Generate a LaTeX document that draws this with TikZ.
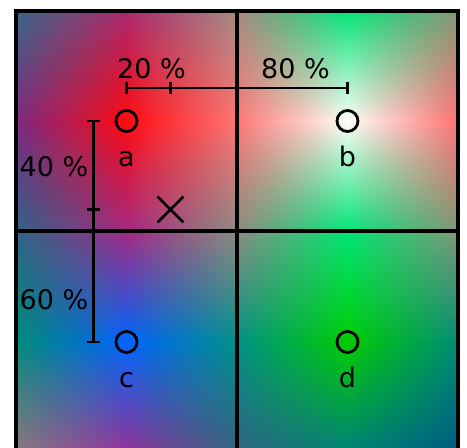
\documentclass[tikz,border=0pt]{standalone}
\usepackage{fontspec}
\setmainfont{DejaVu Sans}
\usetikzlibrary{shapes.misc}
\newcommand\setlat[5]{%
  \expandafter\def\csname Lr#1-#2\endcsname{#3}%
  \expandafter\def\csname Lg#1-#2\endcsname{#4}%
  \expandafter\def\csname Lb#1-#2\endcsname{#5}}
\newcommand\GX[1]{\ifcase\numexpr#1\relax 16\or 126\or 237\or 347\or 458\fi}
\newcommand\GY[1]{\ifcase\numexpr#1\relax 11\or 121\or 231\or 342\or 452\fi}
\newcommand\chancode[3]{%
  \edef\vll{\csname L#1#2-\the\numexpr#3+1\relax\endcsname}%
  \edef\vlr{\csname L#1\the\numexpr#2+1\relax-\the\numexpr#3+1\relax\endcsname}%
  \edef\vul{\csname L#1#2-#3\endcsname}%
  \edef\vur{\csname L#1\the\numexpr#2+1\relax-#3\endcsname}%
  \pgfmathsetmacro\cA{\vll/255}%
  \pgfmathsetmacro\cB{(\vlr-\vll)/255}%
  \pgfmathsetmacro\cC{(\vul-\vll)/255}%
  \pgfmathsetmacro\cD{(\vll-\vlr-\vul+\vur)/255}%
  \xdef\pcode{\pcode\space 2 copy mul \cD\space mul 2 index \cC\space mul add 1 index \cB\space mul add \cA\space add 3 1 roll}%
}
\newcommand\patch[2]{%
  \gdef\pcode{25 sub 50 div exch 25 sub 50 div}%
  \chancode r{#1}{#2}\chancode g{#1}{#2}\chancode b{#1}{#2}%
  \xdef\pcode{\pcode\space pop pop}%
  \edef\pdecl{\noexpand\pgfdeclarefunctionalshading{patch#1#2}{\noexpand\pgfpointorigin}{\noexpand\pgfpoint{100bp}{100bp}}{}{\pcode}}\pdecl
  \edef\xa{\GX{#1}}\edef\xb{\GX{#1+1}}\edef\ya{\GY{#2}}\edef\yb{\GY{#2+1}}%
  \shade[shading=patch#1#2] (\xa-0.5,\ya-0.5) rectangle (\xb+0.5,\yb+0.5);
}
% lattice colours: column i (x), row j (y)
\setlat{0}{0}{55}{105}{135}\setlat{1}{0}{170}{40}{110}\setlat{2}{0}{165}{140}{130}\setlat{3}{0}{0}{230}{120}\setlat{4}{0}{135}{150}{120}
\setlat{0}{1}{125}{40}{130}\setlat{1}{1}{255}{10}{15}\setlat{2}{1}{255}{118}{118}\setlat{3}{1}{255}{255}{250}\setlat{4}{1}{255}{112}{112}
\setlat{0}{2}{45}{100}{135}\setlat{1}{2}{165}{40}{130}\setlat{2}{2}{140}{140}{130}\setlat{3}{2}{0}{230}{120}\setlat{4}{2}{130}{150}{120}
\setlat{0}{3}{0}{140}{120}\setlat{1}{3}{0}{100}{255}\setlat{2}{3}{0}{145}{135}\setlat{3}{3}{0}{205}{0}\setlat{4}{3}{0}{140}{120}
\setlat{0}{4}{140}{120}{130}\setlat{1}{4}{150}{50}{150}\setlat{2}{4}{50}{100}{130}\setlat{3}{4}{0}{130}{120}\setlat{4}{4}{0}{90}{130}
\tikzset{
  gridline/.style={line width=3.4pt, line cap=rect},
  meas/.style={line width=2.8pt},
  pt/.style={circle, draw, line width=2.8pt, minimum size=21pt, inner sep=0pt},
  lbl/.style={anchor=base, inner sep=0pt, outer sep=0pt, font=\fontsize{27}{30}\selectfont},
  sample/.style={cross out, draw, line width=2.8pt, minimum size=23pt, inner sep=0pt},
}
\begin{document}
\begin{tikzpicture}[x=1pt, y=-1pt]
\useasboundingbox (0,0) rectangle (467,448);
\begin{scope}
\clip (0,0) rectangle (467,448);
\foreach \i in {0,...,3}{\foreach \j in {0,...,3}{\edef\ptmp{\noexpand\patch{\i}{\j}}\ptmp}}
% grid
\coordinate (g00) at (16,11);
\coordinate (g22) at (458,452);
\coordinate (gt) at (237,11);
\coordinate (gb) at (237,452);
\coordinate (gl) at (16,231);
\coordinate (gr) at (458,231);
\draw[gridline] (g00) rectangle (g22);
\draw[gridline] (gt) -- (gb);
\draw[gridline] (gl) -- (gr);
\end{scope}
% texel centres
\node[pt] (a) at (126.5,121) {};
\node[pt] (b) at (347.5,121) {};
\node[pt] (c) at (126.5,342) {};
\node[pt] (d) at (347.5,342) {};
\node[lbl] (la) at (126.5,166) {a};
\node[lbl] (lb) at (347.5,166) {b};
\node[lbl] (lc) at (126.5,387) {c};
\node[lbl] (ld) at (347.5,387) {d};
% sample point
\node[sample] (s) at (170.5,209.5) {};
% horizontal measure
\coordinate (h1) at (126.5,88);
\coordinate (h2) at (170.5,88);
\coordinate (h3) at (347.5,88);
\draw[meas] (h1) -- (h3);
\draw[meas] ([yshift=6pt]h1) -- ([yshift=-6pt]h1);
\draw[meas] ([yshift=6pt]h2) -- ([yshift=-6pt]h2);
\draw[meas] ([yshift=6pt]h3) -- ([yshift=-6pt]h3);
\node[lbl] (p20) at (151.5,78) {20 \%};
\node[lbl] (p80) at (295.5,78) {80 \%};
% vertical measure
\coordinate (v1) at (93.5,121);
\coordinate (v2) at (93.5,209.5);
\coordinate (v3) at (93.5,342);
\draw[meas] (v1) -- (v3);
\draw[meas] ([xshift=-6.5pt]v1) -- ([xshift=6.5pt]v1);
\draw[meas] ([xshift=-6.5pt]v2) -- ([xshift=6.5pt]v2);
\draw[meas] ([xshift=-6.5pt]v3) -- ([xshift=6.5pt]v3);
\node[lbl] (p40) at (54,176) {40 \%};
\node[lbl] (p60) at (54,309) {60 \%};
\end{tikzpicture}
\end{document}
